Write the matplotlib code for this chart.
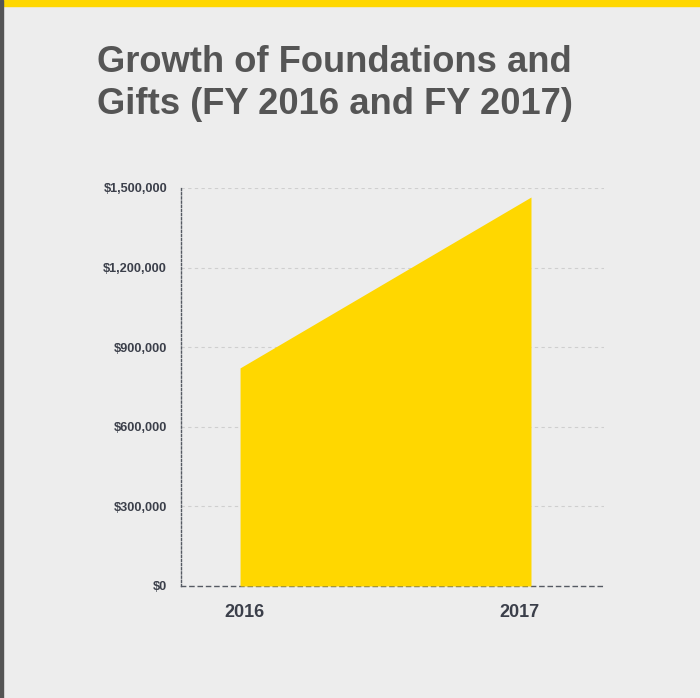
import matplotlib.pyplot as plt
from matplotlib.ticker import FuncFormatter
from matplotlib.patches import Rectangle

# Data
years = ["2016", "2017"]
amounts = [822000, 1466000]
y_ticks = [0, 300000, 600000, 900000, 1200000, 1500000]

bg = "#ededed"
yellow = "#ffd700"
text_dark = "#3b3f4a"

plt.rcParams["font.family"] = ["Liberation Sans", "DejaVu Sans"]

fig = plt.figure(figsize=(7.0, 6.98), dpi=100, facecolor=bg)

# top yellow band and left dark strip
fig.patches.append(Rectangle((0, 1 - 6 / 698), 1, 6 / 698, transform=fig.transFigure,
                             color=yellow, zorder=0))
fig.patches.append(Rectangle((0, 0), 3 / 700, 1, transform=fig.transFigure,
                             color="#555555", zorder=1))

fig.text(97 / 700, 1 - 45 / 698, "Growth of Foundations and\nGifts (FY 2016 and FY 2017)",
         fontsize=26.2, fontweight="bold", color="#555555", va="top", ha="left",
         linespacing=1.25)

ax = fig.add_axes([181 / 700, 1 - 586 / 698, (604 - 181) / 700, (586 - 188) / 698])
ax.set_facecolor(bg)

x = list(range(len(years)))
ax.fill_between(x, 0, amounts, color=yellow, linewidth=0, zorder=2)

ax.set_xlim(-0.203, 1.251)
ax.set_ylim(0, 1500000)

ax.set_yticks(y_ticks)
ax.yaxis.set_major_formatter(FuncFormatter(lambda v, p: "${:,.0f}".format(v)))
ax.set_xticks([0.015, 0.96])
ax.set_xticklabels(years)

ax.tick_params(axis="y", length=0, pad=10, labelsize=9.2, labelcolor=text_dark)
ax.tick_params(axis="x", length=0, pad=13, labelsize=13, labelcolor=text_dark)
for lab in ax.get_yticklabels() + ax.get_xticklabels():
    lab.set_fontweight("bold")

ax.grid(axis="y", color="#cfcfcf", linestyle=(0, (3, 3)), linewidth=0.8, zorder=1)
ax.grid(axis="x", visible=False)

for side in ["top", "right"]:
    ax.spines[side].set_visible(False)
ax.spines["left"].set_linestyle((0, (1.5, 1.5)))
ax.spines["left"].set_color("#555a63")
ax.spines["left"].set_linewidth(1)
ax.spines["bottom"].set_linestyle((0, (3, 3)))
ax.spines["bottom"].set_color("#555a63")
ax.spines["bottom"].set_linewidth(1)
ax.spines["bottom"].set_zorder(1)

fig.savefig("out.png", dpi=100, facecolor=bg)
